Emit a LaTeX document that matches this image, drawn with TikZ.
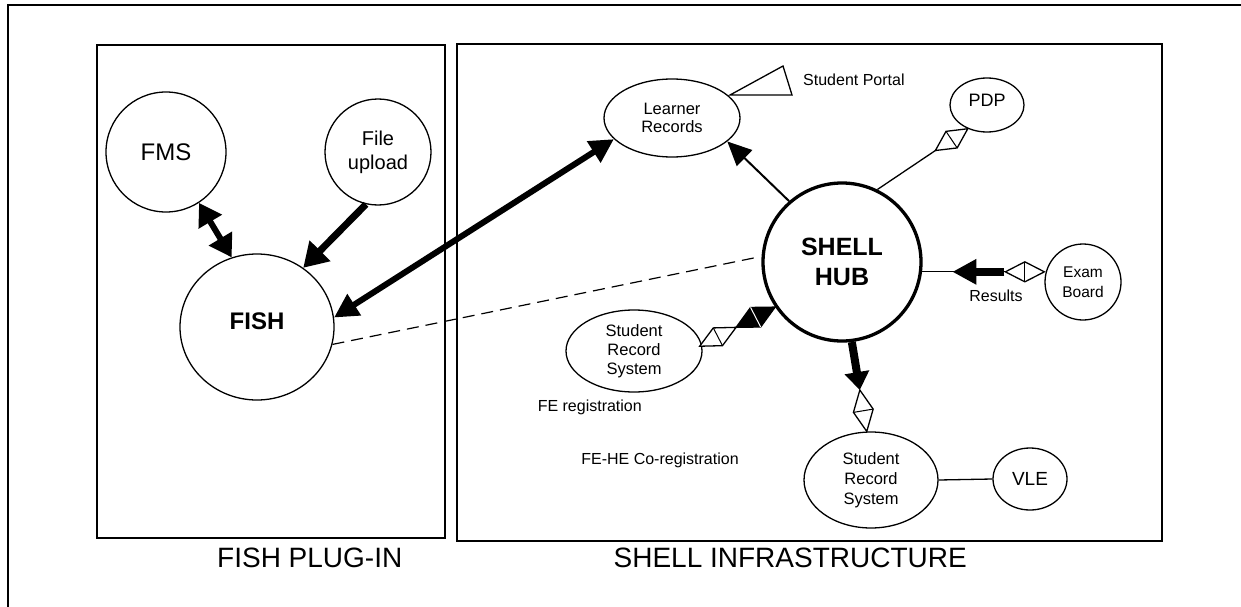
\documentclass[tikz,border=0pt]{standalone}
\usepackage{fontspec}
\setmainfont{Liberation Sans}
\usetikzlibrary{arrows.meta,shapes.geometric,calc}
% #1 fill, #2 tip, #3 toward, #4 length, #5 half length, #6 half width, #7 cross line colour
\newcommand{\crossdmd}[7]{%
  \coordinate (dmT) at (#2);
  \coordinate (dmF) at ($(#2)!#4!(#3)$);
  \coordinate (dmM) at ($(#2)!#5!(#3)$);
  \coordinate (dmA) at ($(dmM)!#6!90:(dmF)$);
  \coordinate (dmB) at ($(dmM)!#6!-90:(dmF)$);
  \draw[line width=1.3pt, line join=miter, fill=#1] (dmT) -- (dmA) -- (dmF) -- (dmB) -- cycle;
  \draw[line width=1pt, draw=#7] (dmA) -- (dmB);
}
\begin{document}
\begin{tikzpicture}[x=1pt,y=-1pt,
  bub/.style={draw, ellipse, line width=1.3pt, inner sep=0pt, align=center},
  lbl/.style={inner sep=0pt, font=\fontsize{16}{19}\selectfont, align=center},
  link/.style={line width=1.3pt},
  boxline/.style={line width=1.8pt},
]
\path[fill=white, use as bounding box] (0,0) rectangle (1241,607);
% frame and boxes
\draw[line width=2pt] (1241,5) -- (8,5) -- (8,607);
\draw[boxline] (97,45) rectangle (445,538);
\draw[boxline] (457,44) rectangle (1162,541);
\node[inner sep=0pt, anchor=west, font=\fontsize{28}{32}\selectfont] (plug) at (217,558) {FISH PLUG-IN};
\node[inner sep=0pt, anchor=east, font=\fontsize{28}{32}\selectfont] (infra) at (967,558) {SHELL INFRASTRUCTURE};

% nodes
\node[bub, minimum width=120pt, minimum height=120pt, font=\fontsize{24}{28}\selectfont] (fms) at (166,152) {FMS};
\node[bub, minimum width=106pt, minimum height=106pt, font=\fontsize{20}{24}\selectfont] (fu) at (378,152) {File\\upload};
\node[bub, minimum width=154pt, minimum height=146pt, font=\bfseries\fontsize{24}{28}\selectfont] (fish) at (257,327) {\raisebox{12pt}{FISH}};
\node[bub, circle, line width=3.3pt, minimum size=158pt, font=\bfseries\fontsize{25}{30}\selectfont] (hub) at (842,262) {SHELL\\HUB};
\node[bub, minimum width=136pt, minimum height=78pt, font=\fontsize{16.5}{18.5}\selectfont] (lr) at (672,118) {Learner\\Records};
\node[bub, minimum width=74pt, minimum height=54pt, font=\fontsize{18}{21}\selectfont] (pdp) at (987,105) {\raisebox{10pt}{PDP}};
\node[bub, minimum width=76pt, minimum height=76pt, font=\fontsize{15.5}{20}\selectfont] (exam) at (1083,282) {Exam\\Board};
\node[bub, minimum width=136pt, minimum height=82pt, font=\fontsize{16.5}{19}\selectfont] (srsa) at (634,351) {Student\\Record\\System};
\node[bub, minimum width=134pt, minimum height=96pt, font=\fontsize{16.5}{20}\selectfont] (srsb) at (871,480) {Student\\Record\\System};
\node[bub, minimum width=74pt, minimum height=62pt, font=\fontsize{19}{22}\selectfont] (vle) at (1030,479) {VLE};

% labels
\node[lbl, anchor=west] (sp) at (803,80) {Student Portal};
\node[lbl] (res) at (996,296) {Results};
\node[lbl, anchor=east] (fereg) at (642,407) {FE registration};
\node[lbl] (fehe) at (660,460) {FE-HE Co-registration};

% student portal triangle
\draw[line width=1.3pt, line join=miter] (730,95) -- (783,66) -- (792,95) -- cycle;

% FISH side arrows
\draw[line width=6pt, {Triangle[length=22pt,width=26pt]}-{Triangle[length=22pt,width=26pt]}] (fms.-57) -- (fish.110);
\draw[line width=7pt, -{Triangle[length=24pt,width=28pt]}] (fu.-103) -- (fish.52);
\draw[line width=6pt, {Triangle[length=24pt,width=24pt]}-{Triangle[length=24pt,width=24pt]}] (fish.7) -- (lr.200);
\draw[line width=1.2pt, dash pattern=on 12pt off 7pt, shorten >=8pt] (fish.-13) -- (hub.176);

% hub to learner records
\draw[line width=2pt, -{Triangle[length=24pt,width=22pt]}] (hub.131) -- (lr.-23);

% hub to PDP
\draw[link] (hub.64) -- (pdp.231);
\crossdmd{white}{pdp.231}{hub.64}{39pt}{19.5pt}{10pt}{black}

% hub to exam board
\coordinate (exA) at (hub.-7);
\coordinate (exB) at (exA -| exam.west);
\draw[link] (exA) -- (exB);
\crossdmd{white}{exB}{exA}{39pt}{19.5pt}{10pt}{black}
\draw[line width=8pt, -{Triangle[length=24pt,width=24pt]}] ($(exB)!40pt!(exA)$) -- ($(exB)!92pt!(exA)$);

% hub to student record system (FE registration)
\draw[link] (hub.214) -- (srsa.5);
\crossdmd{black}{hub.214}{srsa.5}{44pt}{22pt}{11pt}{white}
\coordinate (sam) at ($(hub.214)!44pt!(srsa.5)$);
\crossdmd{white}{sam}{srsa.5}{41pt}{20.5pt}{10pt}{black}

% hub to student record system (co-registration)
\coordinate (bA) at (hub.-83);
\coordinate (bB) at (srsb.95);
\crossdmd{white}{bB}{bA}{42pt}{21pt}{10pt}{black}
\draw[line width=8pt, -{Triangle[length=18pt,width=24pt]}] (bA) -- ($(bB)!42pt!(bA)$);

% SRS to VLE
\draw[link] (srsb.east) -- (vle.west);
\end{tikzpicture}
\end{document}
